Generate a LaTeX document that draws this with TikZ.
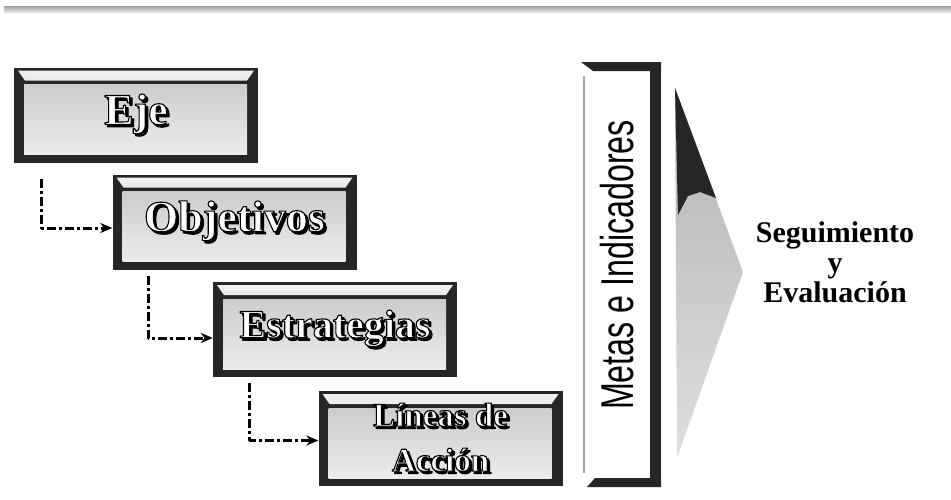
\documentclass[tikz,border=0pt]{standalone}
\usepackage{fontspec}
\setmainfont{Liberation Serif}
\newfontfamily\estrecha[FakeStretch=0.7]{Liberation Sans}
\usetikzlibrary{arrows.meta}
\newcommand\contorno[1]{\special{pdf:literal direct 0 G 2 Tr 1.1 w}#1\special{pdf:literal direct 0 Tr}}
\newcommand\relieve[1]{\makebox[0pt][l]{\hspace{2.5pt}\raisebox{-2.5pt}{\contorno{#1}}}{\color{white}\contorno{#1}}}
\tikzset{
  btn/.style={minimum width=244, minimum height=95, inner sep=0, fill=black!85, font=\bfseries,
    path picture={
      \fill[top color=gray!10, bottom color=gray!55]
        ([shift={(4pt,-3pt)}]path picture bounding box.north west) --
        ([shift={(-4pt,-3pt)}]path picture bounding box.north east) --
        ([shift={(-11pt,-13pt)}]path picture bounding box.north east) --
        ([shift={(11pt,-13pt)}]path picture bounding box.north west) -- cycle;
      \shade[top color=gray!40, middle color=white, bottom color=gray!15]
        ([shift={(10pt,-17pt)}]path picture bounding box.north west) rectangle
        ([shift={(-11pt,8pt)}]path picture bounding box.south east);
    }},
  metasbox/.style={minimum width=80, minimum height=425, inner sep=0, fill=white,
    path picture={
      \fill[black!85] (path picture bounding box.north west) -- (path picture bounding box.north east)
        -- ([shift={(0pt,-9pt)}]path picture bounding box.north east)
        -- ([shift={(12pt,-9pt)}]path picture bounding box.north west) -- cycle;
      \fill[black!85] (path picture bounding box.north east) rectangle
        ([shift={(-11pt,0pt)}]path picture bounding box.south east);
      \fill[black!85] ([shift={(6pt,0pt)}]path picture bounding box.south west) -- (path picture bounding box.south east)
        -- ([shift={(0pt,9pt)}]path picture bounding box.south east)
        -- ([shift={(14pt,9pt)}]path picture bounding box.south west) -- cycle;
      \draw[gray!70, line width=1.5pt] ([shift={(3pt,-14pt)}]path picture bounding box.north west)
        -- ([shift={(3pt,14pt)}]path picture bounding box.south west);
    }},
  link/.style={->, line width=3pt, dash pattern=on 9pt off 3pt on 3pt off 3pt}
}
\begin{document}
\begin{tikzpicture}[x=1pt, y=-1pt, line join=round, line cap=butt, >={Stealth[length=12pt,width=10pt]}]
  \useasboundingbox (0,0) rectangle (951,499);
  \shade[top color=gray!75, bottom color=white] (4,6) rectangle (951,14);
  % botones
  \node[btn] (eje) at (136,115) {\fontsize{44}{44}\selectfont\relieve{Eje}};
  \node[btn] (obj) at (234.5,222) {\fontsize{44}{44}\selectfont\relieve{Objetivos}};
  \node[btn] (est) at (335,329.5) {\fontsize{40}{40}\selectfont\relieve{Estrategias}};
  \node[btn, align=center, font=\bfseries\fontsize{33}{45}\selectfont] (lin) at (440.5,438.5) {\relieve{Líneas de}\\\relieve{Acción}};
  \draw[link] ([shift={(28pt,-16pt)}]eje.south west) |- ([yshift=-6pt]obj.west);
  \draw[link] ([shift={(36pt,-6pt)}]obj.south west) |- ([yshift=-8.5pt]est.west);
  \draw[link] ([shift={(37pt,-6pt)}]est.south west) |- ([yshift=-2pt]lin.west);
  % metas
  \node[metasbox] (metas) at (621,274.5) {};
  \node[rotate=90, font=\estrecha\fontsize{46}{46}\selectfont] (metastxt) at (617,265) {Metas e Indicadores};
  \shade[top color=gray!60, middle color=gray!8, bottom color=gray!25] (675,88) -- (743,272) -- (677,458) -- cycle;
  \fill[black!85] (675,88) -- (716,198) -- (700,192) -- (688,196) -- (678,215) -- cycle;
  \node[align=center, font=\bfseries\fontsize{30}{30}\selectfont] (seg) at (835,262) {Seguimiento\\y\\Evaluación};
\end{tikzpicture}
\end{document}
